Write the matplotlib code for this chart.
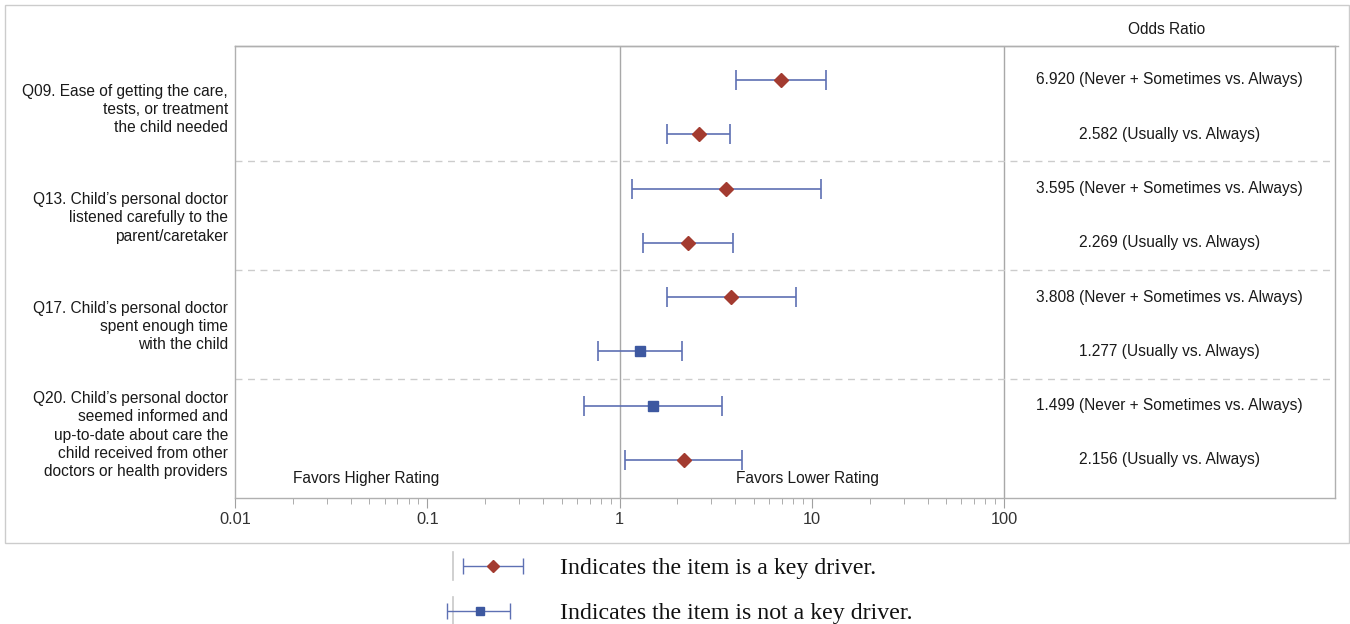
import matplotlib
matplotlib.use("Agg")
import matplotlib.pyplot as plt
import numpy as np
from matplotlib.patches import Rectangle
from matplotlib.ticker import FixedLocator, NullFormatter
import matplotlib.transforms as mtrans

plt.rcParams['font.family'] = ['Liberation Sans', 'DejaVu Sans']

questions = [
    "Q09. Ease of getting the care,\ntests, or treatment\nthe child needed",
    "Q13. Child\u2019s personal doctor\nlistened carefully to the\nparent/caretaker",
    "Q17. Child\u2019s personal doctor\nspent enough time\nwith the child",
    "Q20. Child\u2019s personal doctor\nseemed informed and\nup-to-date about care the\nchild received from other\ndoctors or health providers",
]
comparisons = ["Never + Sometimes vs. Always", "Usually vs. Always"] * 4
odds_ratio = [6.920, 2.582, 3.595, 2.269, 3.808, 1.277, 1.499, 2.156]
ci_lower = [4.03, 1.76, 1.16, 1.33, 1.76, 0.774, 0.653, 1.07]
ci_upper = [11.8, 3.75, 11.2, 3.87, 8.26, 2.12, 3.42, 4.31]
key_driver = [True, True, True, True, True, False, False, True]
tick_values = [0.01, 0.1, 1, 10, 100]
tick_labels = ["0.01", "0.1", "1", "10", "100"]

RED = "#A33B30"
BLUE = "#3D58A0"
BAR = "#5D70B3"
GRID = "#A8A8A8"
TXT = "#1A1A1A"
FS = 11.2

W, H = 1350, 624
fig = plt.figure(figsize=(W / 100, H / 100), dpi=100)

# outer border
fig.patches.append(Rectangle((5 / W, 1 - 543 / H), (1349 - 5) / W, (543 - 5) / H,
                             transform=fig.transFigure, fill=False,
                             edgecolor="#CCCCCC", linewidth=1))

ax = fig.add_axes([235 / W, 1 - 498 / H, 1100 / W, 452 / H])
ax.set_xscale("log")
xmax = 10 ** (2 + (1335 - 1004) / 192.3)
ax.set_xlim(0.01, xmax)
ax.set_ylim(8.70, 0.374)

ypos = np.arange(1, len(odds_ratio) + 1)
for y, o, lo, hi, k in zip(ypos, odds_ratio, ci_lower, ci_upper, key_driver):
    ax.errorbar([o], [y], xerr=[[o - lo], [hi - o]], fmt="none", ecolor=BAR,
                elinewidth=1.2, capsize=7, capthick=1.2, zorder=3)
    if k:
        ax.plot([o], [y], marker="D", color=RED, markersize=7.5, linestyle="none", zorder=4)
    else:
        ax.plot([o], [y], marker="s", color=BLUE, markersize=7.5, linestyle="none", zorder=4)

# reference lines
ax.axvline(1, color=GRID, linewidth=1, zorder=1)
ax.axvline(100, color=GRID, linewidth=1, zorder=1)
for yb in [2.5, 4.5, 6.5]:
    ax.axhline(yb, color="#CCCCCC", linewidth=1, linestyle=(0, (5, 4)), zorder=1)

for s in ax.spines.values():
    s.set_color("#B0B0B0")
    s.set_linewidth(1)

ax.xaxis.set_major_locator(FixedLocator(tick_values))
ax.set_xticklabels(tick_labels)
minor = [m * 10.0 ** e for e in range(-2, 2) for m in range(2, 10)]
ax.xaxis.set_minor_locator(FixedLocator(minor))
ax.xaxis.set_minor_formatter(NullFormatter())
ax.tick_params(axis="x", which="major", length=7, color="#A0A0A0", labelsize=11.8,
               labelcolor="#333333", pad=3)
ax.tick_params(axis="x", which="minor", length=4, color="#A0A0A0")
ax.set_yticks([])

# right-column odds ratio text
trans = mtrans.blended_transform_factory(ax.transAxes, ax.transData)
xc = (1169.5 - 235) / 1100
for y, o, c in zip(ypos, odds_ratio, comparisons):
    ax.text(xc, y, f"{o:.3f} ({c})", transform=trans, ha="center", va="center",
            fontsize=FS, color=TXT)
ax.text((1167 - 235) / 1100, 1 + (46 - 29) / 452, "Odds Ratio", transform=ax.transAxes,
        ha="center", va="center", fontsize=FS, color=TXT)
# top line extension
ax.plot([0, 1.003], [1, 1], transform=ax.transAxes, color="#B0B0B0", linewidth=1, clip_on=False)

# question labels
for i, q in enumerate(questions):
    yc = 2 * i + 1.5
    ax.text(-7 / 1100, yc + 0.04, q, transform=trans, ha="right", va="center",
            fontsize=FS, linespacing=1.27, color=TXT)

ax.text((366 - 235) / 1100, 1 - (479 - 46) / 452, "Favors Higher Rating",
        transform=ax.transAxes, ha="center", va="center", fontsize=FS, color=TXT)
ax.text((807 - 235) / 1100, 1 - (479 - 46) / 452, "Favors Lower Rating",
        transform=ax.transAxes, ha="center", va="center", fontsize=FS, color=TXT)

# legend at bottom
lax = fig.add_axes([0, 0, 1, 1], facecolor="none")
lax.set_xlim(0, W)
lax.set_ylim(H, 0)
lax.axis("off")
leg_items = [("Indicates the item is a key driver.", 566, 463, 523, 493, "D", RED, 6.5),
             ("Indicates the item is not a key driver.", 611, 447, 510, 480, "s", BLUE, 5.5)]
for txt, yy, lo, hi, c, mk, col, ms in leg_items:
    lax.plot([453, 453], [yy - 14, yy + 14], color="#C8C8C8", linewidth=1.2)
    lax.errorbar([c], [yy], xerr=[[c - lo], [hi - c]], fmt="none", ecolor=BAR,
                 elinewidth=1, capsize=6, capthick=1)
    lax.plot([c], [yy], marker=mk, color=col, markersize=ms, linestyle="none")
    lax.text(560, yy + 2.5, txt, ha="left", va="center", fontsize=17.2, color="#111111",
             family=["Liberation Serif", "DejaVu Serif"])

fig.savefig("out.png", dpi=100)
